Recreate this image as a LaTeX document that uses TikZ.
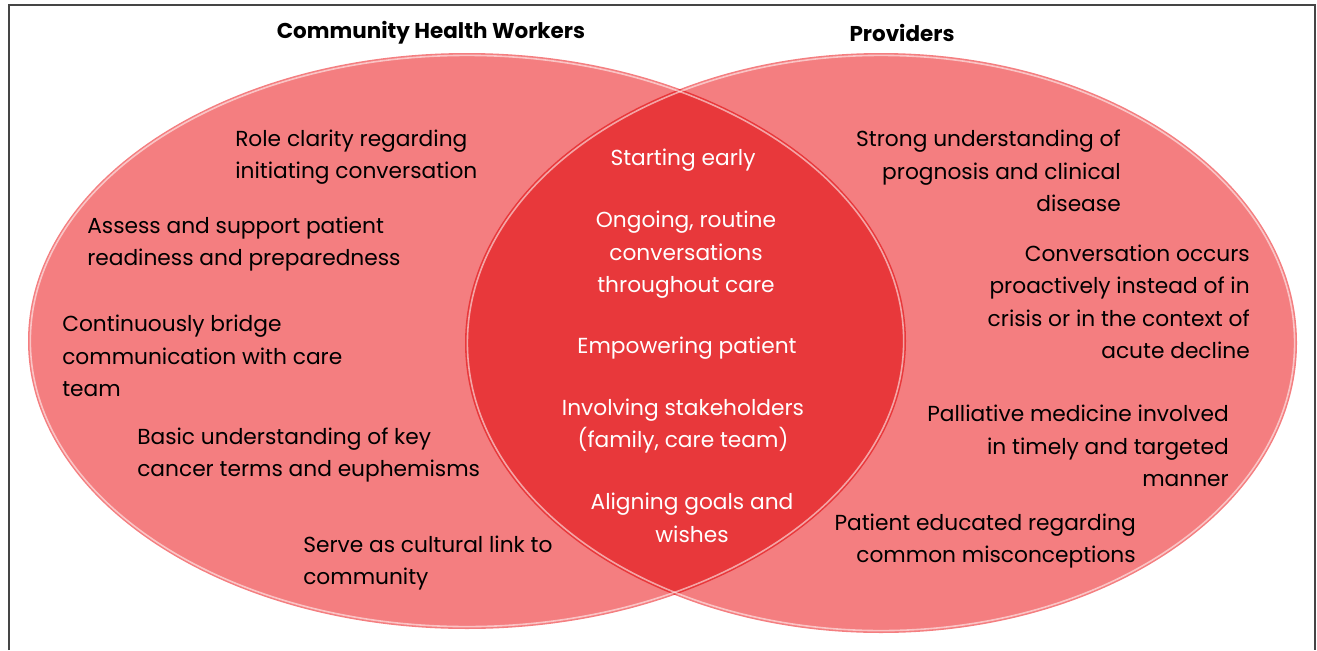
\documentclass[tikz,border=0pt]{standalone}
\usepackage{fontspec}
\setmainfont{Poppins}
\definecolor{lightred}{HTML}{F47E80}
\definecolor{darkred}{HTML}{E8383B}
\definecolor{framegray}{HTML}{454545}
\begin{document}
\begin{tikzpicture}[x=0.75pt,y=-0.75pt,
  txt/.style={inner sep=0pt, font=\fontsize{16.3}{24.4}\selectfont, text=black},
  ltxt/.style={txt, anchor=west, align=left},
  rtxt/.style={txt, anchor=east, align=right},
  ctxt/.style={txt, align=center, text=white},
  title/.style={inner sep=0pt, font=\fontsize{16.1}{20}\selectfont\bfseries, text=black},
  glow/.style={white, opacity=0.55, line width=1.2pt}]
\useasboundingbox (0,0) rectangle (1317,650);
\draw[framegray, line width=1.1pt] (9,650) -- (9,5) -- (1315,5) -- (1315,650);
% ellipses
\fill[lightred] (467,341) ellipse [x radius=329.25pt, y radius=216pt];
\fill[lightred] (881,343) ellipse [x radius=312pt, y radius=217.5pt];
\begin{scope}
  \clip (467,341) ellipse [x radius=329.25pt, y radius=216pt];
  \fill[darkred] (881,343) ellipse [x radius=312pt, y radius=217.5pt];
\end{scope}
\draw[glow] (467,341) ellipse [x radius=327.5pt, y radius=214.2pt];
\draw[glow] (881,343) ellipse [x radius=310.2pt, y radius=215.7pt];
% titles
\node[title] (t1) at (431,33) {Community Health Workers};
\node[title] (t2) at (902,33) {Providers};
% left
\node[ltxt] (l1) at (235,157) {Role clarity regarding\\initiating conversation};
\node[ltxt] (l2) at (87,244) {Assess and support patient\\readiness and preparedness};
\node[ltxt] (l3) at (62,356) {Continuously bridge\\communication with care\\team};
\node[ltxt] (l4) at (137,455) {Basic understanding of key\\cancer terms and euphemisms};
\node[ltxt] (l5) at (303,563) {Serve as cultural link to\\community};
% center
\node[ctxt] (c1) at (683,160) {Starting early};
\node[ctxt] (c2) at (686,255) {Ongoing, routine\\conversations\\throughout care};
\node[ctxt] (c3) at (687,348) {Empowering patient};
\node[ctxt] (c4) at (683,426) {Involving stakeholders\\(family, care team)};
\node[ctxt] (c5) at (692,518) {Aligning goals and\\wishes};
% right
\node[rtxt] (r1) at (1121,171) {Strong understanding of\\prognosis and clinical\\disease};
\node[rtxt] (r2) at (1250,302) {Conversation occurs\\proactively instead of in\\crisis or in the context of\\acute decline};
\node[rtxt] (r3) at (1229,446) {Palliative medicine involved\\in timely and targeted\\manner};
\node[rtxt] (r4) at (1136,541) {Patient educated regarding\\common misconceptions};
\end{tikzpicture}
\end{document}
